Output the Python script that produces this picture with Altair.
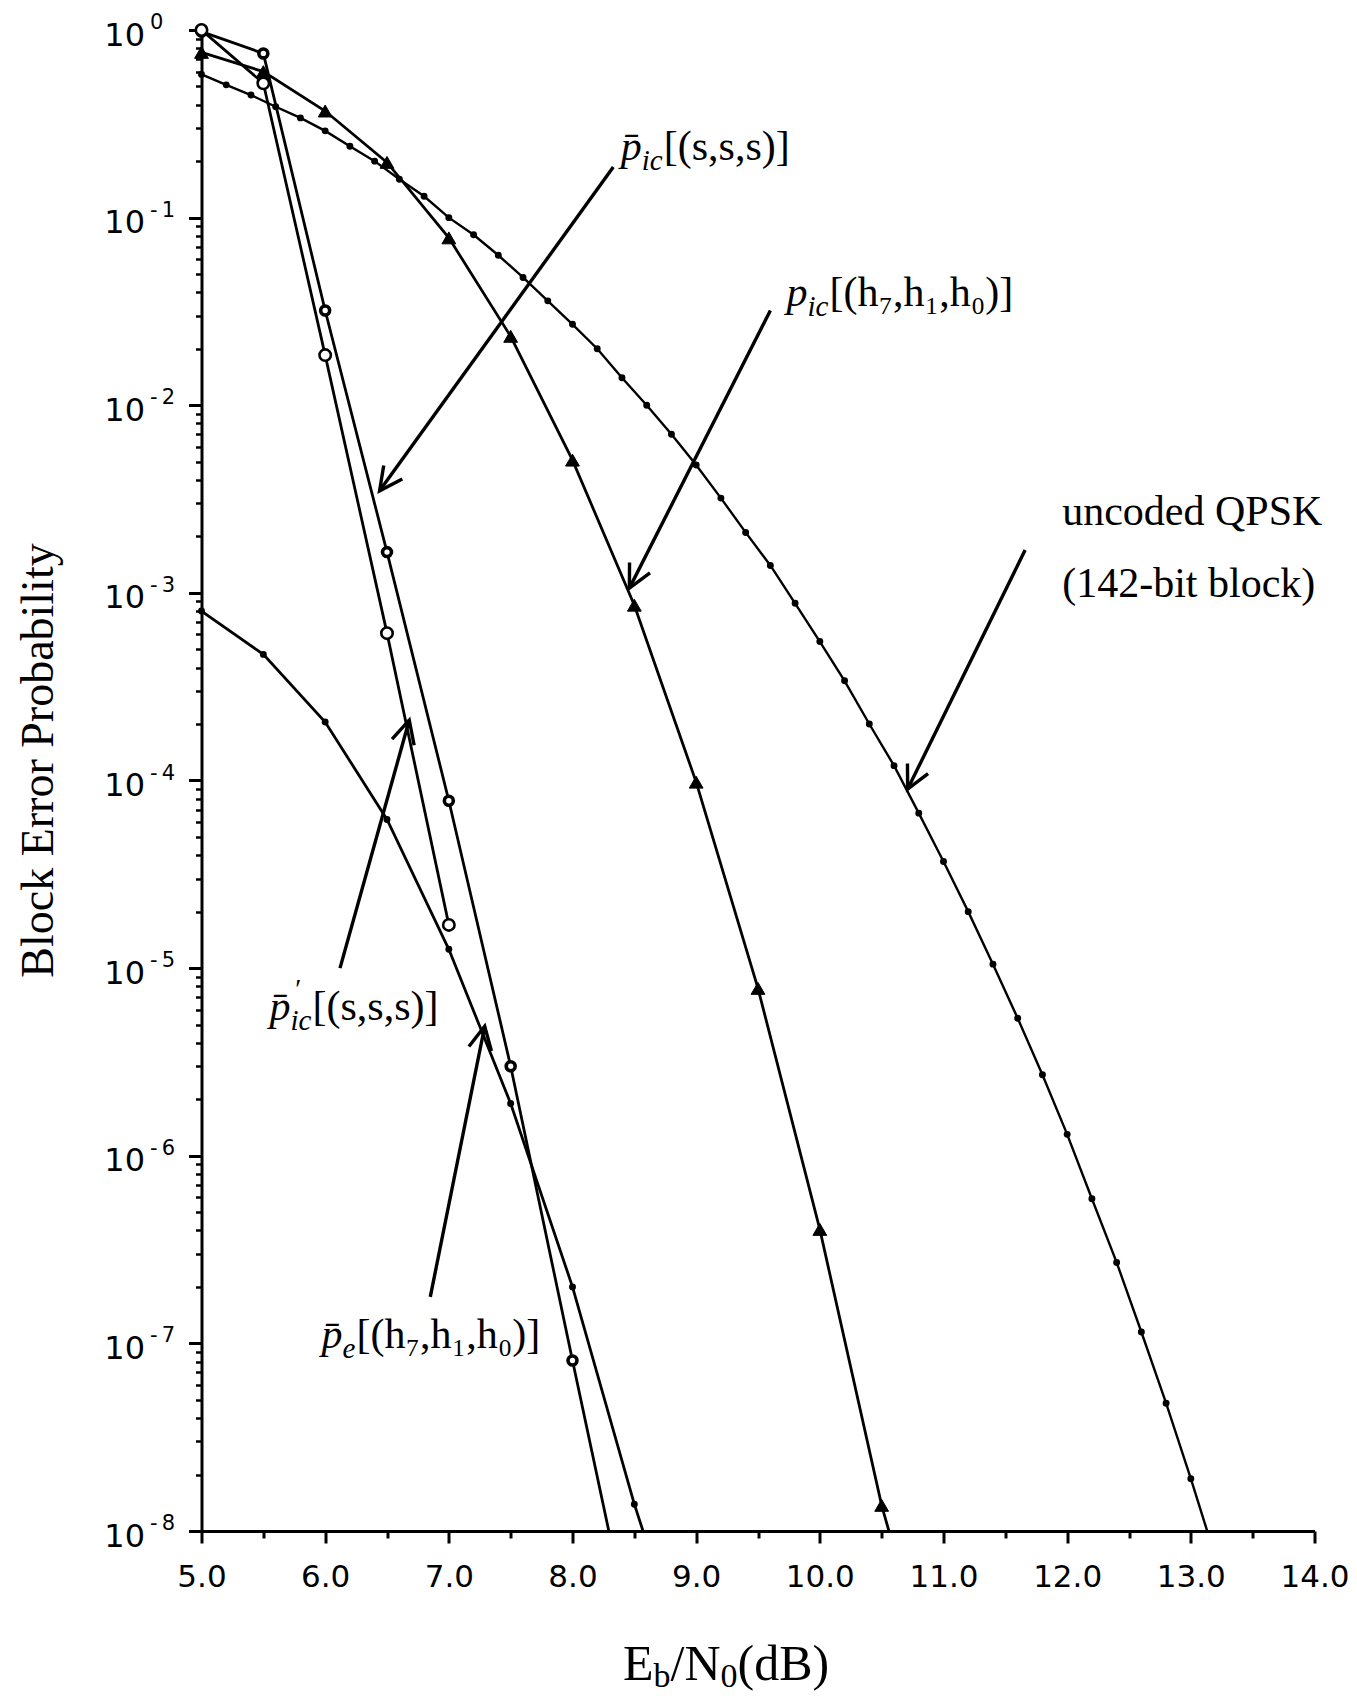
import math
import altair as alt
import pandas as pd

# ------------------------------------------------------------------ data
# uncoded QPSK, 142-bit block (small dots every 0.2 dB)
qpsk_x = [5.0, 5.2, 5.4, 5.6, 5.8, 6.0, 6.2, 6.4, 6.6, 6.8, 7.0, 7.2, 7.4, 7.6, 7.8,
          8.0, 8.2, 8.4, 8.6, 8.8, 9.0, 9.2, 9.4, 9.6, 9.8, 10.0, 10.2, 10.4, 10.6,
          10.8, 11.0, 11.2, 11.4, 11.6, 11.8, 12.0, 12.2, 12.4, 12.6, 12.8, 13.0]
qpsk_y = [0.58, 0.51, 0.45, 0.39, 0.34, 0.29, 0.24, 0.20, 0.16, 0.13, 0.10, 0.081,
          0.063, 0.048, 0.036, 0.027, 0.020, 0.014, 0.010, 0.0070, 0.0048, 0.0032,
          0.0021, 0.0014, 8.8e-4, 5.5e-4, 3.4e-4, 2.0e-4, 1.2e-4, 6.7e-5, 3.7e-5,
          2.0e-5, 1.05e-5, 5.4e-6, 2.7e-6, 1.3e-6, 5.9e-7, 2.7e-7, 1.15e-7, 4.8e-8, 1.9e-8]
qpsk_end_x, qpsk_end_y = 13.2, 7.2e-9          # line runs on past the axis

# p_ic[(h7,h1,h0)]  (filled triangles)
tri_x = [5.0, 5.5, 6.0, 6.5, 7.0, 7.5, 8.0, 8.5, 9.0, 9.5, 10.0, 10.5]
tri_y = [0.76, 0.60, 0.37, 0.197, 0.078, 0.0233, 5.1e-3, 8.6e-4, 9.8e-5, 7.8e-6, 4.05e-7, 1.37e-8]
tri_end_x, tri_end_y = 10.6, 8.0e-9

# p̄_ic[(s,s,s)]  (small circles with thick rim)
sss_x = [5.0, 5.5, 6.0, 6.5, 7.0, 7.5, 8.0]
sss_y = [0.98, 0.75, 0.032, 1.65e-3, 7.8e-5, 3.0e-6, 8.1e-8]
sss_end_x, sss_end_y = 8.5, 2.3e-9

# p̄'_ic[(s,s,s)]  (open circles)
sssp_x = [5.0, 5.5, 6.0, 6.5, 7.0]
sssp_y = [1.0, 0.52, 0.0185, 6.1e-4, 1.7e-5]

# p̄_e[(h7,h1,h0)]  (small dots)
pe_x = [5.0, 5.5, 6.0, 6.5, 7.0, 7.5, 8.0, 8.5]
pe_y = [8.0e-4, 4.7e-4, 2.05e-4, 6.2e-5, 1.26e-5, 1.9e-6, 2.0e-7, 1.39e-8]
pe_end_x, pe_end_y = 8.6, 8.7e-9

# axis ticks
x_major = [5, 6, 7, 8, 9, 10, 11, 12, 13, 14]
x_minor = [5.5, 6.5, 7.5, 8.5, 9.5, 10.5, 11.5, 12.5, 13.5]
y_major = [1, 1e-1, 1e-2, 1e-3, 1e-4, 1e-5, 1e-6, 1e-7, 1e-8]
y_exponents = ["0", "-\u20091", "-\u20092", "-\u20093", "-\u20094", "-\u20095",
               "-\u20096", "-\u20097", "-\u20098"]
y_mantissas = [2, 3, 4, 5, 6, 7, 8, 9]

# annotation arrows (tail -> head, data units)
arrow_tail_x = [8.33, 9.60, 11.66, 6.12, 6.85]
arrow_tail_y = [0.186, 0.032, 1.69e-3, 1.0e-5, 1.77e-7]
arrow_head_x = [6.44, 8.46, 10.71, 6.68, 7.29]
arrow_head_y = [3.5e-3, 1.06e-3, 9.0e-5, 2.1e-4, 4.9e-6]

# curve labels
lab_x = [8.39, 9.73, 5.55, 5.97]
lab_y = [0.203, 0.0338, 5.29e-6, 9.4e-8]
lab_base = ["p\u0304", "p", "p\u0304", "p\u0304"]
lab_sub = ["ic", "ic", "ic", "e"]
lab_arg = ["[(s,s,s)]", "[(h₇,h₁,h₀)]", "[(s,s,s)]", "[(h₇,h₁,h₀)]"]
lab_prime = [False, False, True, False]

note_x = [11.96, 11.96]
note_y = [2.30e-3, 9.5e-4]
note_text = ["uncoded QPSK", "(142-bit block)"]

# ------------------------------------------------------------------ layout
W, H = 1113, 1501
xs = alt.Scale(domain=[5, 14], nice=False, zero=False)
ys = alt.Scale(type="log", domain=[1e-8, 1], nice=False)

SERIF = "Liberation Serif"
SANS = "DejaVu Sans"


def X(f, axis=None):
    return alt.X(f, type="quantitative", scale=xs, axis=axis)


def Y(f, axis=None):
    return alt.Y(f, type="quantitative", scale=ys, axis=axis)


y_minor = [m * 10.0 ** (-k) for k in range(1, 9) for m in y_mantissas]

x_axis_major = alt.Axis(values=x_major, format=".1f", orient="bottom", labelFont=SANS,
                        labelFontSize=31, labelColor="black", labelPadding=19,
                        labelFlush=False, labelOverlap=False, tickSize=12, tickWidth=3,
                        tickColor="black", domainColor="black", domainWidth=3,
                        grid=False, title=None)
y_axis_major = alt.Axis(values=y_major, labelExpr="'10'", orient="left", labelFont=SANS,
                        labelFontSize=32, labelColor="black", labelPadding=44,
                        labelOffset=5, labelFlush=False, labelOverlap=False,
                        tickSize=13, tickWidth=3, tickColor="black",
                        domainColor="black", domainWidth=3, grid=False,
                        title="Block Error Probability", titleFont=SERIF, titleFontSize=46,
                        titleFontWeight="normal", titleColor="black", titleX=-163.5,
                        titleY=730, titleAngle=270, titleAlign="center",
                        titleBaseline="middle")
x_axis_minor = alt.Axis(values=x_minor, orient="bottom", labels=False, tickSize=7,
                        tickWidth=3, tickColor="black", domain=False, grid=False, title=None)
y_axis_minor = alt.Axis(values=y_minor, orient="left", labels=False, tickSize=6,
                        tickWidth=2.5, tickColor="black", domain=False, grid=False, title=None)

qpsk_df = pd.DataFrame({"x": qpsk_x, "y": qpsk_y})
tri_df = pd.DataFrame({"x": tri_x, "y": tri_y})
sss_df = pd.DataFrame({"x": sss_x, "y": sss_y})
sssp_df = pd.DataFrame({"x": sssp_x, "y": sssp_y})
pe_df = pd.DataFrame({"x": pe_x, "y": pe_y})


def with_end(df, ex, ey):
    return pd.concat([df, pd.DataFrame({"x": [ex], "y": [ey]})], ignore_index=True)


layers = []
# lines
layers.append(alt.Chart(with_end(qpsk_df, qpsk_end_x, qpsk_end_y))
              .mark_line(color="black", strokeWidth=2.4, clip=True)
              .encode(x=X("x", x_axis_major), y=Y("y", y_axis_major)))
for df, ex, ey in [(tri_df, tri_end_x, tri_end_y), (sss_df, sss_end_x, sss_end_y),
                   (pe_df, pe_end_x, pe_end_y)]:
    layers.append(alt.Chart(with_end(df, ex, ey))
                  .mark_line(color="black", strokeWidth=2.8, clip=True)
                  .encode(x=X("x"), y=Y("y")))
layers.append(alt.Chart(sssp_df).mark_line(color="black", strokeWidth=2.8, clip=True)
              .encode(x=X("x"), y=Y("y")))
# minor tick axes (invisible marks)
layers.append(alt.Chart(qpsk_df).mark_point(opacity=0)
              .encode(x=X("x", x_axis_minor), y=Y("y", y_axis_minor)))

# superscript exponents of the y tick labels
exp_df = pd.DataFrame({"v": y_major, "e": y_exponents})
layers.append(alt.Chart(exp_df)
              .mark_text(font=SANS, fontSize=21, align="left", baseline="alphabetic",
                         color="black", dy=-1)
              .encode(x=alt.value(-51.5), y=Y("v"), text="e:N"))


# arrows
def px_x(v):
    return (v - 5) / 9 * W


def px_y(v):
    return -math.log10(v) / 8 * H


arr = pd.DataFrame({"tx": arrow_tail_x, "ty": arrow_tail_y,
                    "hx": arrow_head_x, "hy": arrow_head_y})
arr["ang"] = [
    math.degrees(math.atan2(px_x(hx) - px_x(tx), -(px_y(hy) - px_y(ty)))) % 360
    for tx, ty, hx, hy in zip(arrow_tail_x, arrow_tail_y, arrow_head_x, arrow_head_y)
]
layers.append(alt.Chart(arr).mark_rule(color="black", strokeWidth=3.4)
              .encode(x=X("tx"), y=Y("ty"), x2="hx", y2="hy"))
V_PATH = "M -0.45 0.9 L 0 0 L 0.45 0.9"
layers.append(alt.Chart(arr).mark_point(shape=V_PATH, filled=False, stroke="black",
                                        strokeWidth=3.4, size=2600, opacity=1)
              .encode(x=X("hx"), y=Y("hy"), angle=alt.Angle("ang:Q", scale=None)))

# markers
layers.append(alt.Chart(qpsk_df).mark_circle(color="black", size=48, opacity=1)
              .encode(x=X("x"), y=Y("y")))
layers.append(alt.Chart(pe_df).mark_circle(color="black", size=48, opacity=1)
              .encode(x=X("x"), y=Y("y")))
layers.append(alt.Chart(tri_df).mark_point(shape="triangle-up", filled=True, fill="black",
                                           stroke="black", strokeWidth=1, size=190, opacity=1)
              .encode(x=X("x"), y=Y("y")))
layers.append(alt.Chart(sss_df).mark_point(shape="circle", filled=True, fill="white",
                                           stroke="black", strokeWidth=3.6, size=80, opacity=1)
              .encode(x=X("x"), y=Y("y")))
layers.append(alt.Chart(sssp_df).mark_point(shape="circle", filled=True, fill="white",
                                            stroke="black", strokeWidth=2.6, size=130, opacity=1)
              .encode(x=X("x"), y=Y("y")))

# curve labels
lab_df = pd.DataFrame({"x": lab_x, "y": lab_y, "base": lab_base, "sub": lab_sub,
                       "arg": lab_arg, "prime": lab_prime})


def text_layer(df, field, size, style="normal", dx=0, dy=0):
    return (alt.Chart(df)
            .mark_text(font=SERIF, fontSize=size, fontStyle=style, align="left",
                       baseline="alphabetic", color="black", dx=dx, dy=dy)
            .encode(x=X("x"), y=Y("y"), text=alt.Text(field + ":N")))


layers.append(text_layer(lab_df, "base", 42, "italic"))
layers.append(text_layer(lab_df, "sub", 29, "italic", dx=21, dy=10))
prime_df = lab_df[lab_df["prime"]].assign(pr="′")
layers.append(text_layer(prime_df, "pr", 28, "italic", dx=24, dy=-22))
layers.append(text_layer(lab_df[lab_df["sub"] == "ic"], "arg", 42, dx=43))
layers.append(text_layer(lab_df[lab_df["sub"] == "e"], "arg", 42, dx=35))

note_df = pd.DataFrame({"x": note_x, "y": note_y, "t": note_text})
layers.append(text_layer(note_df, "t", 42))

# x-axis title  E_b/N_0(dB)
x0, yb = 421.5, 1650
title_parts = [("E", 0, 0, 50), ("b", 30.5, 7, 34), ("/N", 47.5, 0, 50),
               ("0", 97.5, 7, 34), ("(dB)", 114.5, 0, 50)]
for txt, ox, oy, fs in title_parts:
    layers.append(alt.Chart(pd.DataFrame({"t": [txt]}))
                  .mark_text(font=SERIF, fontSize=fs, align="left", baseline="alphabetic",
                             color="black")
                  .encode(x=alt.value(x0 + ox), y=alt.value(yb + oy), text="t:N"))

chart = (alt.layer(*layers)
         .resolve_axis(x="independent", y="independent")
         .properties(width=W, height=H,
                     autosize=alt.AutoSizeParams(type="none"),
                     padding={"left": 193.5, "top": 22, "right": 34.5, "bottom": 165},
                     background="white")
         .configure_view(stroke=None))

chart.save("out.html", embed_options={"renderer": "svg", "actions": False})
